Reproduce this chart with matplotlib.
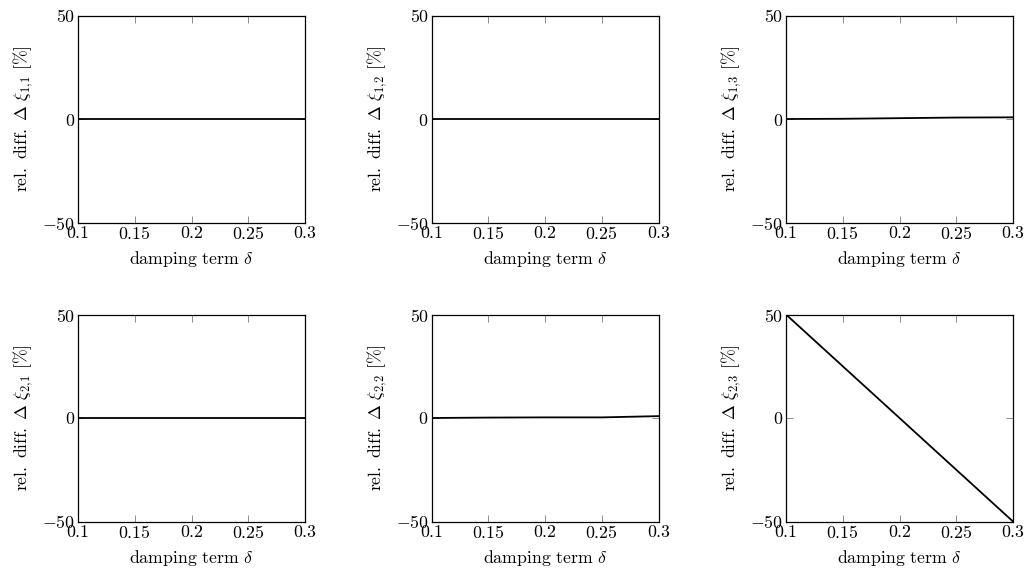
import matplotlib
matplotlib.use('Agg')
import matplotlib.pyplot as plt
import numpy as np

plt.rcParams['font.family'] = 'serif'
plt.rcParams['font.serif'] = ['cmr10']
plt.rcParams['mathtext.fontset'] = 'cm'
plt.rcParams['axes.formatter.use_mathtext'] = True
plt.rcParams['font.size'] = 12.8

# damping term values
delta = [0.1, 0.15, 0.2, 0.25, 0.3]

# relative differences [%] per mode
xi_11 = [0.0, 0.0, 0.0, 0.0, 0.0]
xi_12 = [0.0, 0.0, 0.0, 0.0, 0.0]
xi_13 = [0.0, 0.1, 0.4, 0.7, 0.8]
xi_21 = [0.0, 0.0, 0.0, 0.0, 0.0]
xi_22 = [0.0, 0.2, 0.3, 0.3, 0.9]
xi_23 = [50.0, 25.0, 0.0, -25.0, -50.0]

series = [xi_11, xi_12, xi_13, xi_21, xi_22, xi_23]
labels = ['1,\\!1', '1,\\!2', '1,\\!3', '2,\\!1', '2,\\!2', '2,\\!3']

xticks = [0.1, 0.15, 0.2, 0.25, 0.3]
xticklabels = ['0.1', '0.15', '0.2', '0.25', '0.3']
yticks = [-50, 0, 50]

W, H = 1025, 570
fig = plt.figure(figsize=(W / 100, H / 100), dpi=100)

lefts = [78, 431.5, 786]
tops = [15.5, 314.5]
aw, ah = 227, 207

for i, (y, lab) in enumerate(zip(series, labels)):
    r, c = divmod(i, 3)
    ax = fig.add_axes([lefts[c] / W, (H - tops[r] - ah) / H, aw / W, ah / H])
    ax.plot(delta, y, color='k', lw=1.3)
    ax.set_xlim(0.1, 0.3)
    ax.set_ylim(-50, 50)
    ax.set_xticks(xticks)
    ax.set_xticklabels(['$\\mathdefault{%s}$' % t for t in xticklabels])
    ax.set_yticks(yticks)
    ax.tick_params(direction='in', top=True, right=True, length=5,
                   width=0.7, color='0.55', labelcolor='k', pad=2)
    for s in ax.spines.values():
        s.set_linewidth(0.9)
    ax.set_xlabel(r'$\mathrm{damping\ term}\ \delta$', labelpad=5)
    ax.set_ylabel(r'$\mathrm{rel.\ diff.}\ \Delta\ \xi_{%s}\ [\%%]$' % lab,
                  labelpad=5)

fig.savefig('out.png', dpi=100)
